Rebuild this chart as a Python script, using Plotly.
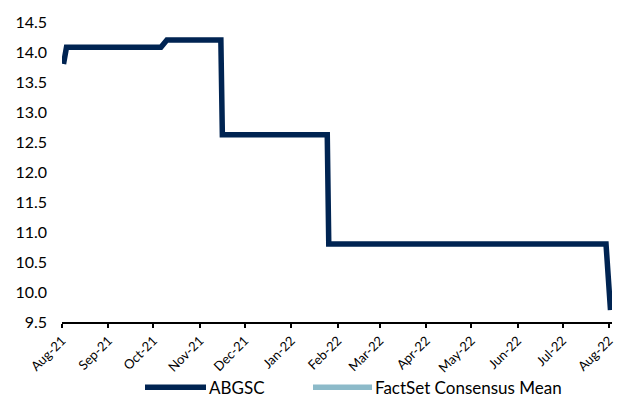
import plotly.graph_objects as go

# ABGSC target price history (step changes only)
abgsc_dates = [
    "2021-08-02", "2021-08-04", "2021-10-06", "2021-10-10",
    "2021-11-15", "2021-11-16", "2022-01-25", "2022-01-26",
    "2022-07-30", "2022-08-02",
]
abgsc_values = [13.80, 14.08, 14.08, 14.20, 14.20, 12.62, 12.62, 10.80, 10.80, 9.70]

# FactSet consensus mean (no observations in the window)
factset_dates = []
factset_values = []

series_names = ["ABGSC", "FactSet Consensus Mean"]
series_colors = ["#002452", "#8CBAC9"]

y_ticks = [9.5, 10.0, 10.5, 11.0, 11.5, 12.0, 12.5, 13.0, 13.5, 14.0, 14.5]

W, H = 630, 399
M_L, M_R, M_T, M_B = 62, 18, 18, 77
PLOT_W = W - M_L - M_R
PLOT_H = H - M_T - M_B

FONT = "Lato"

fig = go.Figure()
fig.add_trace(go.Scatter(
    x=abgsc_dates, y=abgsc_values, mode="lines", name=series_names[0],
    line=dict(color=series_colors[0], width=5.5), showlegend=False,
))
fig.add_trace(go.Scatter(
    x=factset_dates, y=factset_values, mode="lines", name=series_names[1],
    line=dict(color=series_colors[1], width=5.5), showlegend=False,
))


def px_x(px):
    return (px - M_L) / PLOT_W


def px_y(py):
    return (H - M_B - py) / PLOT_H


# Legend drawn below the axis with long line keys
legend_y = px_y(388)
legend_items = [(145, 206, 207), (313, 372, 373)]
shapes = []
annotations = []
for (x0, x1, tx), name, color in zip(legend_items, series_names, series_colors):
    shapes.append(dict(
        type="line", xref="paper", yref="paper",
        x0=px_x(x0), x1=px_x(x1), y0=legend_y, y1=legend_y,
        line=dict(color=color, width=5.5),
    ))
    annotations.append(dict(
        text=name, xref="paper", yref="paper", x=px_x(tx), y=legend_y,
        xanchor="left", yanchor="middle", showarrow=False,
        font=dict(family=FONT, size=17, color="#000000"),
    ))

fig.update_layout(
    width=W, height=H,
    margin=dict(l=M_L, r=M_R, t=M_T, b=M_B),
    paper_bgcolor="white", plot_bgcolor="white",
    font=dict(family=FONT, color="#000000"),
    shapes=shapes, annotations=annotations,
    showlegend=False,
)
fig.update_xaxes(
    type="date", range=["2021-08-01", "2022-08-03"],
    tick0="2021-08-01", dtick="M1", tickformat="%b-%y",
    tickangle=-45, tickfont=dict(family=FONT, size=13, color="#000000"),
    showgrid=False, zeroline=False,
    showline=True, linecolor="#000000", linewidth=2,
    ticks="outside", ticklen=4, tickwidth=1.5, tickcolor="#000000",
)
fig.update_yaxes(
    range=[9.5, 14.5], tickvals=y_ticks, tickformat=".1f",
    tickfont=dict(family=FONT, size=16, color="#000000"),
    showgrid=False, zeroline=False, showline=False, ticks="",
    ticklabelstandoff=14,
)

fig.write_html("out.html")
